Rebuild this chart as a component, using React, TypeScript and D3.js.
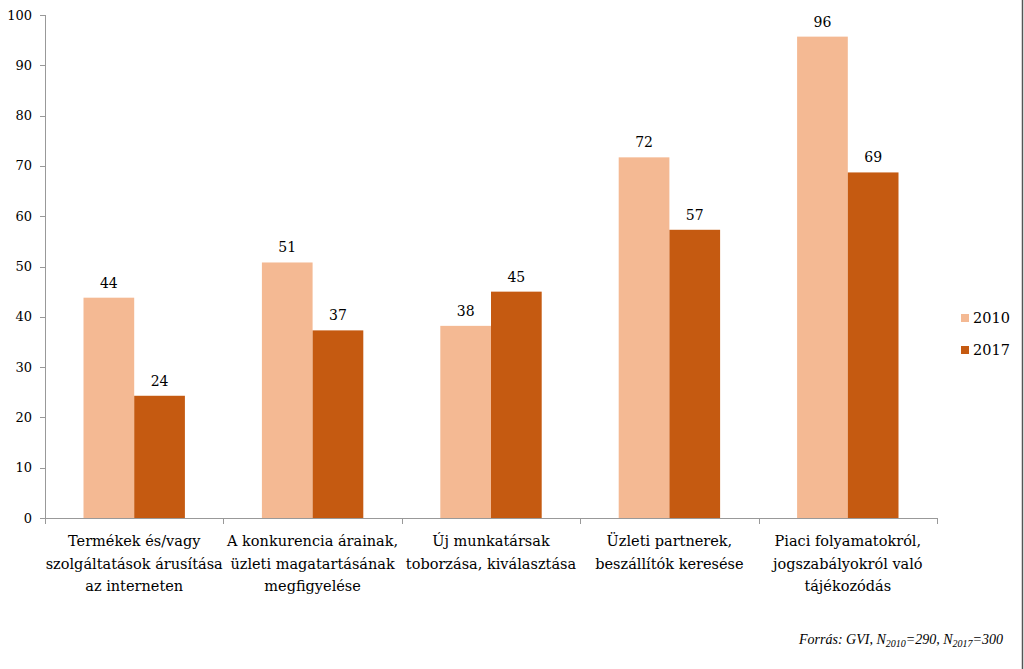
import React from "react";
import * as d3 from "d3";

const categories: string[][] = [
  ["Termékek és/vagy", "szolgáltatások árusítása", "az interneten"],
  ["A konkurencia árainak,", "üzleti magatartásának", "megfigyelése"],
  ["Új munkatársak", "toborzása, kiválasztása"],
  ["Üzleti partnerek,", "beszállítók keresése"],
  ["Piaci folyamatokról,", "jogszabályokról való", "tájékozódás"],
];
const series = ["2010", "2017"];
const values2010 = [43.8, 50.8, 38.2, 71.7, 95.7];
const values2017 = [24.3, 37.3, 45.0, 57.3, 68.7];
const yTicks = [0, 10, 20, 30, 40, 50, 60, 70, 80, 90, 100];
const colors = ["#F4B993", "#C55A11"];

const W = 1024;
const H = 669;
const FONT = "'DejaVu Serif', serif";

export default function App() {
  const x0 = d3.scaleBand<number>().domain(d3.range(categories.length)).range([45, 937]).paddingInner(0).paddingOuter(0);
  const x1 = d3.scaleBand<string>().domain(series).range([38.5, x0.bandwidth() - 38.5]).padding(0);
  const y = d3.scaleLinear().domain([0, 100]).range([518, 15]);
  const data = [values2010, values2017];
  const ticksX = d3.range(categories.length + 1).map((i) => 45 + i * x0.bandwidth());

  return (
    <div style={{ position: "absolute", left: 0, top: 0 }}>
      <svg width={W} height={H} style={{ display: "block", background: "#fff" }} fontFamily={FONT}>
        <rect x={0} y={0} width={W} height={H} fill="#fff" />
        <line x1={W - 1.5} x2={W - 1.5} y1={0} y2={H} stroke="#555" strokeWidth={1.5} />
        {/* y axis */}
        <line x1={45.5} x2={45.5} y1={y(100)} y2={y(0)} stroke="#999" />
        {yTicks.map((t) => (
          <g key={t}>
            <line x1={40} x2={45.5} y1={Math.round(y(t)) + 0.5} y2={Math.round(y(t)) + 0.5} stroke="#999" />
            <text x={32} y={y(t)} dy="0.35em" textAnchor="end" fontSize={13} fill="#000">
              {t}
            </text>
          </g>
        ))}
        {/* bars */}
        {categories.map((c, i) =>
          series.map((s, j) => {
            const v = data[j][i];
            const bx = (x0(i) as number) + (x1(s) as number);
            return (
              <g key={`${i}-${s}`}>
                <rect x={bx} y={y(v)} width={x1.bandwidth()} height={y(0) - y(v)} fill={colors[j]} />
                <text x={bx + x1.bandwidth() / 2} y={y(v) - 10} textAnchor="middle" fontSize={14} fill="#000">
                  {Math.round(v)}
                </text>
              </g>
            );
          })
        )}
        {/* x axis */}
        <line x1={45} x2={937} y1={518.5} y2={518.5} stroke="#999" />
        {ticksX.map((tx, i) => (
          <line key={i} x1={Math.round(tx) + 0.5} x2={Math.round(tx) + 0.5} y1={518} y2={524} stroke="#999" />
        ))}
        {categories.map((lines, i) => (
          <text key={i} textAnchor="middle" fontSize={14.5} fill="#000">
            {lines.map((ln, k) => (
              <tspan key={k} x={(x0(i) as number) + x0.bandwidth() / 2} y={546 + k * 22.5}>
                {ln}
              </tspan>
            ))}
          </text>
        ))}
        {/* legend */}
        {series.map((s, j) => (
          <g key={s}>
            <rect x={961} y={314 + j * 32} width={8} height={8} fill={colors[j]} />
            <text x={973} y={318 + j * 32} dy="0.35em" fontSize={14.5} fill="#000">
              {s}
            </text>
          </g>
        ))}
        {/* source */}
        <text x={1003} y={644} textAnchor="end" fontSize={14} fontStyle="italic" fill="#000" fontFamily="'Liberation Serif', serif">
          Forrás: GVI, N
          <tspan fontSize={10} dy={3}>2010</tspan>
          <tspan dy={-3}>=290, N</tspan>
          <tspan fontSize={10} dy={3}>2017</tspan>
          <tspan dy={-3}>=300</tspan>
        </text>
      </svg>
    </div>
  );
}
